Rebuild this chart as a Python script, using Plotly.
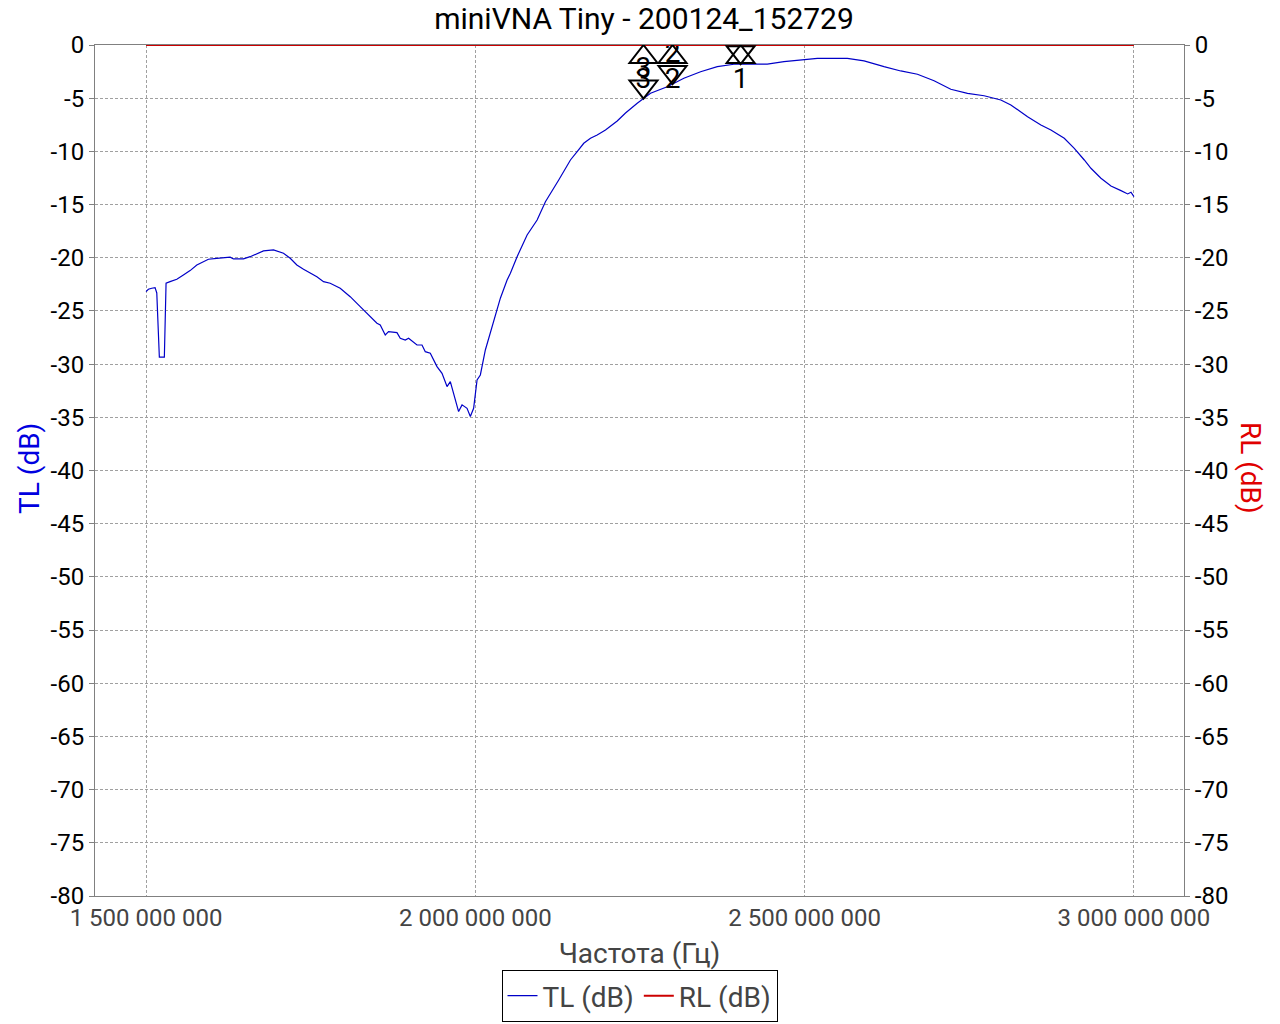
import numpy as np
import plotly.graph_objects as go

# ---- data (frequency in MHz, levels in dB) ----
tl_freq_mhz = [1500, 1503.5, 1508.7, 1513.7, 1516.3, 1520.2, 1527.8, 1530.4, 1536.5, 1546.7,
               1556.7, 1566.9, 1577.1, 1584.7, 1594.7, 1607.4, 1627.7, 1632.7, 1647.9, 1658.1,
               1668.2, 1678.3, 1693.5, 1708.7, 1718.9, 1729.0, 1739.1, 1749.2, 1759.4, 1769.5,
               1779.6, 1794.8, 1810.0, 1825.2, 1840.4, 1850.6, 1855.6, 1863.2, 1868.2, 1881.0,
               1886.0, 1893.6, 1898.6, 1911.4, 1919.0, 1924.0, 1931.6, 1941.8, 1949.4, 1957.0,
               1962.0, 1974.6, 1979.8, 1987.4, 1992.4, 1997.4, 2002.6, 2007.6, 2015.2, 2020.2,
               2027.8, 2038.0, 2048.2, 2053.2, 2063.4, 2078.6, 2093.8, 2106.4, 2126.6, 2144.4,
               2154.6, 2164.6, 2174.8, 2185.0, 2197.6, 2215.4, 2228.0, 2245.8, 2266.0, 2291.4,
               2316.6, 2342.0, 2367.4, 2392.6, 2418.0, 2443.3, 2468.6, 2498.9, 2519.3, 2564.9,
               2590.2, 2620.5, 2645.9, 2671.3, 2696.5, 2721.9, 2747.3, 2772.5, 2797.9, 2813.1,
               2838.5, 2858.7, 2873.9, 2894.2, 2909.4, 2924.6, 2934.7, 2949.9, 2965.1, 2980.3,
               2990.5, 2995.5, 3000]
tl_db = [-23.19, -22.96, -22.87, -22.81, -23.31, -29.35, -29.35, -22.40, -22.25, -22.02,
         -21.62, -21.21, -20.68, -20.46, -20.14, -20.05, -19.95, -20.11, -20.11, -19.90,
         -19.64, -19.36, -19.27, -19.58, -20.05, -20.68, -21.08, -21.46, -21.78, -22.25,
         -22.40, -22.87, -23.66, -24.60, -25.54, -26.16, -26.32, -27.26, -26.95, -27.04,
         -27.57, -27.73, -27.57, -28.20, -28.20, -28.83, -28.98, -30.23, -30.86, -32.11,
         -31.64, -34.46, -33.83, -34.15, -34.93, -34.15, -31.48, -31.02, -28.67, -27.57,
         -26.00, -23.80, -22.09, -21.46, -19.90, -17.86, -16.45, -14.73, -12.69, -10.81,
         -10.03, -9.24, -8.77, -8.46, -7.99, -7.14, -6.39, -5.48, -4.54, -3.92,
         -3.13, -2.51, -2.04, -1.81, -1.79, -1.79, -1.57, -1.34, -1.25, -1.25,
         -1.50, -2.04, -2.44, -2.75, -3.36, -4.16, -4.54, -4.77, -5.17, -5.64,
         -6.74, -7.52, -7.99, -8.77, -9.71, -10.81, -11.59, -12.53, -13.25, -13.69,
         -14.00, -13.84, -14.26]

rl_freq_mhz = [1500, 3000]
rl_db = [0.0, 0.0]

marker_names = ["1", "2", "3"]
marker_freq_mhz = [2402.8, 2299.4, 2255.3]

x_tick_vals_hz = [1.5e9, 2.0e9, 2.5e9, 3.0e9]
y_tick_vals = list(range(-80, 1, 5))
y_tick_text = [str(v) for v in y_tick_vals]

title_text = "miniVNA Tiny - 200124_152729"

# ---- derived ----
Y_MIN, Y_MAX = -80, 0
PLOT_H_PX = 851
tl_x = np.array(tl_freq_mhz) * 1e6
rl_x = np.array(rl_freq_mhz) * 1e6
mk_x = np.array(marker_freq_mhz) * 1e6
mk_tl = np.interp(marker_freq_mhz, tl_freq_mhz, tl_db)
mk_rl = np.interp(marker_freq_mhz, rl_freq_mhz, rl_db)
# TL labels sit above their triangle; the ones that would fall above the plot are clipped away
px_from_top = (Y_MAX - mk_tl) * PLOT_H_PX / (Y_MAX - Y_MIN)
tl_labels = [n if d > 28 else "" for n, d in zip(marker_names, px_from_top)]

FONT = "Roboto"

fig = go.Figure()
fig.add_trace(go.Scatter(x=tl_x, y=tl_db, mode="lines", name="TL (dB)",
                         line=dict(color="#0000c8", width=1.2)))
fig.add_trace(go.Scatter(x=rl_x, y=rl_db, mode="lines", name="RL (dB)", yaxis="y2",
                         line=dict(color="#cc0000", width=2)))

# marker labels
fig.add_trace(go.Scatter(x=mk_x, y=mk_tl, mode="markers+text", text=tl_labels,
                         textposition="top center", cliponaxis=True, showlegend=False,
                         hoverinfo="skip",
                         marker=dict(size=22, opacity=0),
                         textfont=dict(family=FONT, size=28, color="black")))
fig.add_trace(go.Scatter(x=mk_x, y=mk_rl, mode="markers+text", text=marker_names,
                         textposition="bottom center", cliponaxis=True, showlegend=False,
                         hoverinfo="skip", yaxis="y2",
                         marker=dict(size=33, opacity=0),
                         textfont=dict(family=FONT, size=28, color="black")))

shapes = []
for fx, tv, rv in zip(mk_x, mk_tl, mk_rl):
    # TL marker: down-pointing triangle, apex at the point
    shapes.append(dict(type="path", xref="x", yref="y", xsizemode="pixel", ysizemode="pixel",
                       xanchor=fx, yanchor=tv, path="M 0,0 L -14,18 L 14,18 Z",
                       line=dict(color="black", width=2)))
    # RL marker: up-pointing triangle, apex at the point
    shapes.append(dict(type="path", xref="x", yref="y2", xsizemode="pixel", ysizemode="pixel",
                       xanchor=fx, yanchor=rv, path="M 0,0 L -14,-18 L 14,-18 Z",
                       line=dict(color="black", width=2)))

grid = dict(showgrid=True, gridcolor="#a0a0a0", gridwidth=1, griddash="3px,2px")

fig.update_layout(
    width=1272, height=1016,
    margin=dict(l=87, r=96, t=37, b=128, autoexpand=False),
    paper_bgcolor="white", plot_bgcolor="white",
    separators=", ",
    title=dict(text=title_text, x=0.5, xanchor="center", y=0.9892, yanchor="middle",
               font=dict(family=FONT, size=30, color="black")),
    shapes=shapes,
    showlegend=True,
    legend=dict(orientation="h", x=0.5, xanchor="center", y=-0.148, yanchor="bottom",
                bordercolor="black", borderwidth=1, bgcolor="white",
                font=dict(family=FONT, size=28, color="#444444"),
                itemwidth=30, tracegroupgap=0),
    xaxis=dict(range=[1.4225e9, 3.076e9], tickvals=x_tick_vals_hz, tickformat=",.0f",
               showline=True, linecolor="#808080", linewidth=1, mirror=True,
               zeroline=False, ticks="", layer="below traces", automargin=False,
               tickfont=dict(family=FONT, size=24, color="#444444"),
               title=dict(text="Частота (Гц)", font=dict(family=FONT, size=28, color="#444444"),
                          standoff=12),
               **grid),
    yaxis=dict(range=[Y_MIN, Y_MAX], tickvals=y_tick_vals, ticktext=y_tick_text, showline=True,
               linecolor="#808080", linewidth=1, mirror=True, zeroline=False,
               ticks="outside", ticklen=5, tickcolor="#808080", layer="below traces",
               automargin=False,
               tickfont=dict(family=FONT, size=24, color="black"), **grid),
    yaxis2=dict(range=[Y_MIN, Y_MAX], tickvals=y_tick_vals, ticktext=y_tick_text, overlaying="y",
                side="right", showline=True, linecolor="#808080", linewidth=1,
                zeroline=False, ticks="outside", ticklen=5, tickcolor="#808080",
                showgrid=False, layer="below traces", automargin=False,
                tickfont=dict(family=FONT, size=24, color="black")),
    annotations=[
        dict(text="TL (dB)", xref="paper", yref="paper", x=-0.0597, y=0.503,
             xanchor="center", yanchor="middle", textangle=-90, showarrow=False,
             font=dict(family=FONT, size=28, color="#0000e0")),
        dict(text="RL (dB)", xref="paper", yref="paper", x=1.0606, y=0.503,
             xanchor="center", yanchor="middle", textangle=90, showarrow=False,
             font=dict(family=FONT, size=28, color="#e00000")),
    ],
)

fig.write_html("out.html")
